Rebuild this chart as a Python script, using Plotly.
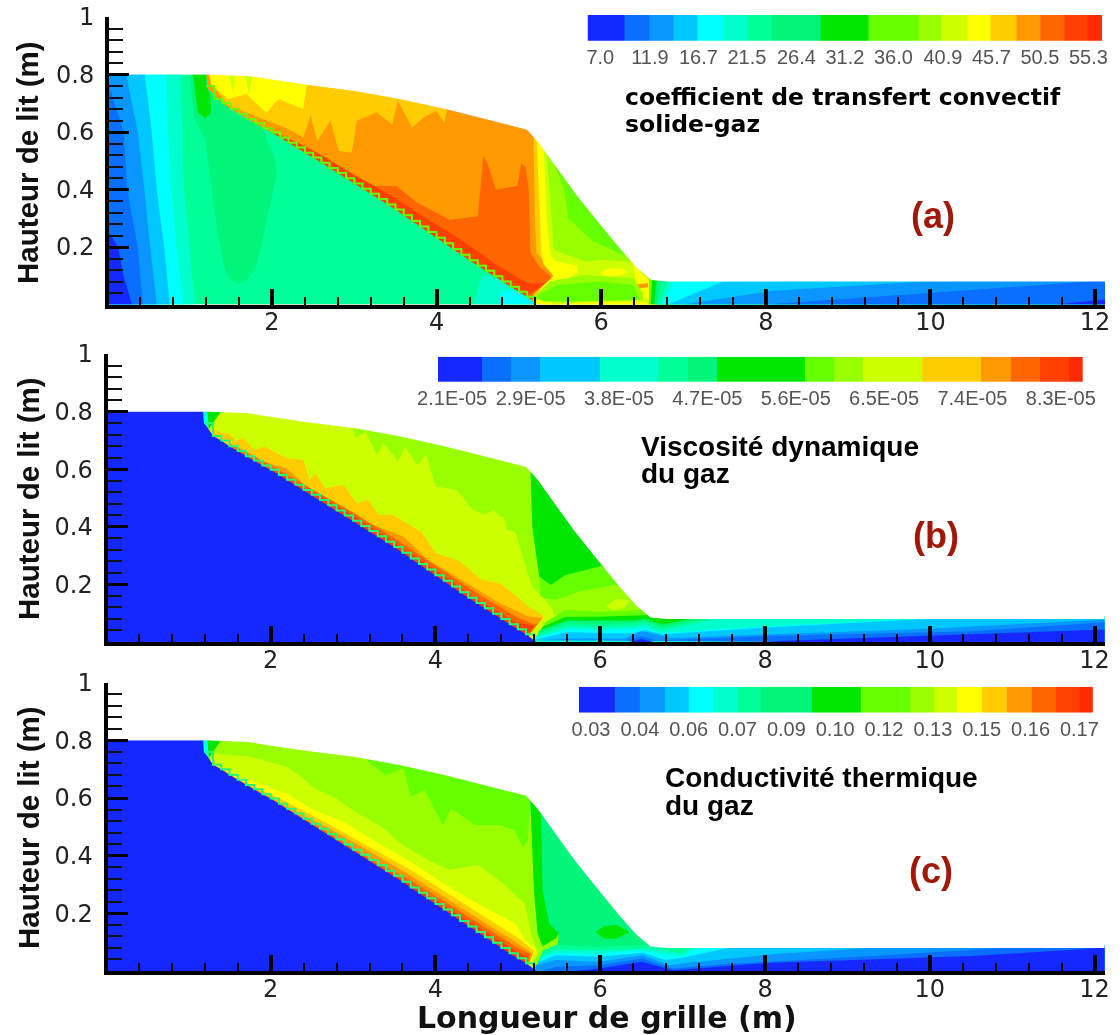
import plotly.graph_objects as go

W, H = 1120, 1035
PALETTE = ["#1428ff", "#0a6eff", "#0a96ff", "#00c8ff", "#00ffff", "#00ffcc", "#00ff99", "#00f57a", "#00e600",
           "#66ff00", "#99ff00", "#ccff00", "#ffff00", "#ffcc00", "#ff9900", "#ff6600", "#ff4000", "#ff2a00"]
RED = "#a01808"

# ---------- colour legends ----------
A_EDGES = [5.73, 9.37, 11.9, 14.24, 16.6, 19.19, 21.56, 23.9, 28.8, 33.57, 38.45, 40.8, 43.3, 45.65, 48.16, 50.53, 52.9, 55.2, 56.64]
A_LEVELS = list(range(18))
A_TICKS = [7.0, 11.9, 16.7, 21.5, 26.4, 31.2, 36.0, 40.9, 45.7, 50.5, 55.3]
A_TICKTEXT = ["7.0", "11.9", "16.7", "21.5", "26.4", "31.2", "36.0", "40.9", "45.7", "50.5", "55.3"]

B_EDGES = [1.956, 2.404, 2.696, 2.996, 3.602, 4.198, 4.498, 4.80, 5.695, 5.99, 6.29, 6.886, 7.487, 7.79, 8.083, 8.383, 8.523]
B_LEVELS = [0, 1, 2, 3, 5, 6, 7, 8, 9, 10, 11, 13, 14, 15, 16, 17]
B_TICKS = [2.1, 2.9, 3.8, 4.7, 5.6, 6.5, 7.4, 8.3]
B_TICKTEXT = ["2.1E-05", "2.9E-05", "3.8E-05", "4.7E-05", "5.6E-05", "6.5E-05", "7.4E-05", "8.3E-05"]

C_EDGES = [.0265, .0368, .0441, .0511, .0579, .0652, .0721, .0788, .0932, .1072, .1213, .1283, .1349, .142, .1493, .1563, .1632, .1701, .1739]
C_LEVELS = list(range(18))
C_TICKS = [.03, .044, .058, .072, .086, .10, .114, .128, .142, .156, .17]
C_TICKTEXT = ["0.03", "0.04", "0.06", "0.07", "0.09", "0.10", "0.12", "0.13", "0.15", "0.16", "0.17"]

# ---------- bed geometry (metres) ----------
BED_TOP = [(0, .8), (1.2, .8), (1.73, .794), (2.42, .764), (3.03, .742), (3.55, .715), (4.11, .68), (4.76, .633), (5.1, .608),
           (5.24, .563), (5.5, .46), (5.68, .388), (5.94, .295), (6.24, .19), (6.44, .126), (6.61, .085), (6.81, .08),
           (12.12, .08), (12.4, .08), (12.4, 1.05), (0, 1.05)]
FRONT_X = [1.2, 1.3, 1.4, 1.5, 1.6, 1.7, 1.8, 1.9, 2.0, 2.1, 2.2, 2.3, 2.4, 2.5, 2.6, 2.7, 2.8, 2.9, 3.0, 3.1, 3.2, 3.3, 3.4, 3.5,
           3.6, 3.7, 3.8, 3.9, 4.0, 4.1, 4.2, 4.3, 4.4, 4.5, 4.6, 4.7, 4.8, 4.9, 5.0, 5.1, 5.2]
FRONT_Y = [.76, .715, .70, .68, .663, .645, .63, .613, .598, .58, .563, .546, .528, .511, .493, .475, .457, .439, .421, .403, .385,
           .367, .348, .33, .31, .29, .271, .252, .232, .213, .193, .173, .154, .135, .117, .098, .08, .062, .044, .027, .005]
SOLID = [(0, 0), (0, .8), (1.2, .8)] + list(zip(FRONT_X, FRONT_Y)) + [(5.22, 0)]

# ---------- panel (a) regions ----------
A_DRY = [(1.2, 0), (5.5, 0), (5.5, .85), (1.2, .85)]
A_13 = [(1.26, .767), (1.47, .692), (2.16, .616), (2.38, .581), (2.47, .657), (2.55, .569), (2.71, .639), (2.81, .534), (2.97, .528),
        (3.03, .639), (3.27, .668), (3.46, .627), (3.53, .709), (3.70, .616), (3.85, .651), (4.0, .674), (4.09, .633), (4.13, .68),
        (4.13, .75), (1.2, .85)]
A_12 = [(1.23, .82), (1.26, .767), (1.47, .715), (1.69, .732), (1.93, .668), (2.08, .715), (2.38, .68), (2.42, .764), (2.42, .85)]
A_11A = [(1.47, .81), (1.57, .81), (1.52, .74)]
A_11B = [(1.66, .81), (1.78, .81), (1.72, .735)]
A_15 = [(2.6, .505), (3.25, .412), (3.51, .412), (3.77, .353), (4.16, .295), (4.5, .307), (4.57, .517), (4.63, .482), (4.72, .40),
        (4.98, .412), (5.03, .49), (5.08, .48), (5.12, .4), (5.14, .18), (5.25, .13), (5.42, .09), (5.3, .06), (5.2, 0), (2.6, .4)]
A_14I = [(4.18, .33), (4.22, .38), (4.3, .37), (4.35, .39), (4.45, .38), (4.47, .32), (4.36, .34)]
A_16 = [(2.0, .6), (2.3, .565), (2.6, .52), (3.0, .45), (3.46, .377), (3.9, .295), (4.33, .219), (4.76, .132), (5.11, .073),
        (5.32, .074), (5.11, .033), (5.05, 0), (2.0, .5)]
A_R14 = [(5.13, .619), (5.13, .41), (5.15, .178), (5.28, .132), (5.40, .091), (5.32, .07), (5.175, .037), (5.155, .004),
         (6.9, 0), (6.9, .65), (5.13, .65)]
A_R13 = [(5.175, .6), (5.195, .294), (5.215, .178), (5.32, .149), (5.42, .097), (5.276, .062), (5.175, .033), (5.175, 0),
         (6.9, 0), (6.9, .65), (5.175, .65)]
A_R12 = [(5.216, .65), (5.216, .578), (5.256, .294), (5.276, .167), (5.30, .14), (5.42, .1), (5.25, .05), (5.18, 0), (6.9, 0), (6.9, .65)]
A_R11 = [(5.30, .65), (5.30, .543), (5.34, .294), (5.38, .178), (5.43, .152), (5.70, .135), (5.72, .11), (5.6, .09), (5.43, .085),
         (5.4, 0), (6.9, 0), (6.9, .65)]
A_R12B = [(5.98, .112), (6.1, .126), (6.25, .124), (6.33, .112), (6.2, .098), (6.05, .098)]
A_R12C = [(6.38, .16), (6.48, .11), (6.6, .08), (6.58, .02), (6.4, .02), (6.42, .08)]
A_R14C = [(6.44, .07), (6.57, .075), (6.57, .06), (6.45, .055)]
A_R10 = [(5.34, .6), (5.34, .514), (5.40, .294), (5.42, .19), (5.82, .149), (5.985, .155), (6.39, .149), (6.6, .2), (6.6, .6)]
A_R9 = [(5.35, .65), (5.35, .55), (5.55, .4), (5.6, .3), (5.9, .22), (6.27, .172), (6.6, .172), (6.6, .65)]
A_L10 = [(5.195, .033), (5.38, .08), (5.78, .103), (6.39, .091), (6.51, .039), (6.51, .016), (5.2, .016)]
A_L9 = [(5.216, .027), (5.46, .068), (5.985, .08), (6.39, .068), (6.47, .016), (5.70, .01), (5.3, .01)]
A_L12 = [(5.7, .008), (6.5, .01), (6.6, 0), (5.6, 0)]
A_S9 = [(6.58, .09), (6.58, 0), (12.2, 0), (12.2, .09)]
A_S8 = [(6.62, .09), (6.6, 0), (12.2, 0), (12.2, .09)]
A_S7 = [(6.68, .09), (6.64, 0), (12.2, 0), (12.2, .09)]
A_S6 = [(6.74, .09), (6.67, 0), (12.2, 0), (12.2, .09)]
A_S5 = [(6.82, .09), (6.7, 0), (12.2, 0), (12.2, .09)]
A_S4 = [(6.9, .09), (6.74, 0), (12.2, 0), (12.2, .09)]
A_S3 = [(6.81, 0), (7.48, .08), (12.2, .09), (12.2, 0)]
A_S2 = [(7.0, 0), (8.09, .048), (9.91, .08), (12.2, .09), (12.2, 0)]
A_S1 = [(8.0, 0), (10.52, .05), (11.94, .08), (12.2, .09), (12.2, 0)]
A_S0 = [(11.53, 0), (12.12, .016), (12.2, .02), (12.2, 0)]
A_W6 = SOLID
A_W5 = [(0, 0), (1.06, 0), (1.0, .2), (.93, .4), (.91, .6), (.89, .81), (0, .81)]
A_W4 = [(0, 0), (.92, 0), (.84, .2), (.78, .4), (.74, .6), (.71, .81), (0, .81)]
A_W3 = [(0, 0), (.76, 0), (.69, .2), (.6, .4), (.54, .6), (.45, .81), (0, .81)]
A_W2 = [(0, 0), (.6, 0), (.52, .2), (.45, .4), (.37, .6), (.22, .81), (0, .81)]
A_W1 = [(0, 0), (.43, 0), (.37, .2), (.24, .4), (.2, .6), (.09, .7), (.02, .76), (0, .76)]
A_W0 = [(0, 0), (.30, 0), (.195, .1), (.13, .2), (.02, .25), (0, .25)]
A_W7 = [(1.0, .8), (1.06, .645), (1.19, .573), (1.26, .422), (1.34, .247), (1.43, .119), (1.5, .085), (1.6, .073), (1.72, .09), (1.82, .144),
        (1.95, .307), (2.02, .4), (2.06, .458), (2.03, .516), (1.95, .56), (1.9, .61), (1.5, .675), (1.22, .75), (1.2, .8)]
A_W8 = [(1.04, .8), (1.10, .668), (1.19, .647), (1.26, .668), (1.25, .73), (1.2, .76), (1.2, .8)]
A_W5B = [(4.45, 0), (4.55, .1), (4.7, .098), (5.2, .005), (5.2, 0)]
A_W4B = [(4.75, 0), (4.77, .045), (4.95, .047), (5.2, .005), (5.2, 0)]
A_LAYERS = [(14, A_DRY), (13, A_13), (12, A_12), (11, A_11A), (11, A_11B), (15, A_15), (14, A_14I), (16, A_16),
            (14, A_R14), (13, A_R13), (12, A_R12), (11, A_R11), (12, A_R12B), (12, A_R12C), (14, A_R14C), (10, A_R10), (9, A_R9),
            (10, A_L10), (9, A_L9), (12, A_L12), (9, A_S9), (8, A_S8), (7, A_S7), (6, A_S6), (5, A_S5), (4, A_S4), (3, A_S3),
            (2, A_S2), (1, A_S1), (0, A_S0), (6, A_W6), (5, A_W5), (4, A_W4), (3, A_W3), (2, A_W2), (1, A_W1), (0, A_W0),
            (7, A_W7), (8, A_W8), (5, A_W5B), (4, A_W4B)]

# ---------- panel (b) regions ----------
B_DRY = [(1.2, 0), (5.6, 0), (5.6, .85), (1.2, .85)]
B_10 = [(3.0, .85), (3.0, .742), (3.03, .708), (3.15, .73), (3.29, .65), (3.37, .69), (3.55, .627), (3.63, .679), (3.78, .615), (3.89, .65),
        (4.0, .54), (4.26, .528), (4.45, .459), (4.6, .442), (4.71, .459), (4.78, .435), (4.83, .435), (4.87, .389), (4.97, .383),
        (5.07, .285), (5.175, .192), (5.26, .169), (5.42, .117), (5.44, .094), (6.9, .09), (6.9, .85)]
B_11B = [(6.07, .125), (6.2, .15), (6.35, .145), (6.3, .12), (6.15, .11)]
B_9 = [(5.26, .24), (5.276, .157), (5.46, .146), (5.74, .175), (6.17, .198), (6.6, .2), (6.6, .3), (5.985, .27)]
B_8 = [(5.155, .7), (5.155, .59), (5.175, .40), (5.26, .227), (5.40, .198), (5.58, .233), (5.985, .262), (6.5, .3), (6.5, .7)]
B_S9 = [(5.34, .07), (5.58, .111), (5.985, .105), (6.43, .111), (6.55, .111), (6.7, .09), (12.2, .09), (12.2, 0), (5.2, 0)]
B_S8 = [(5.30, .053), (5.58, .088), (5.985, .088), (6.47, .094), (6.59, .094), (6.71, .085), (12.2, .09), (12.2, 0), (5.2, 0)]
B_S7 = [(5.26, .04), (5.6, .075), (6.0, .075), (6.4, .075), (6.55, .08), (6.75, .06), (7.2, .085), (12.2, .09), (12.2, 0), (5.2, 0)]
B_S6 = [(5.25, .03), (5.6, .065), (6.0, .062), (6.4, .065), (6.55, .072), (6.75, .05), (7.4, .085), (12.2, .09), (12.2, 0), (5.2, 0)]
B_S5 = [(5.22, .02), (5.6, .055), (6.0, .05), (6.4, .055), (6.55, .062), (6.75, .04), (7.5, .085), (12.2, .09), (12.2, 0), (5.2, 0)]
B_S4 = [(5.2, .012), (5.6, .045), (6.0, .04), (6.4, .045), (6.55, .05), (6.71, .031), (8.0, .054), (9.9, .08), (12.2, .09), (12.2, 0)]
B_S3 = [(5.2, .008), (5.6, .035), (6.0, .03), (6.4, .03), (6.55, .042), (6.75, .027), (8.0, .05), (9.95, .08), (12.2, .09), (12.2, 0)]
B_S2 = [(5.2, .005), (5.6, .012), (6.3, .012), (6.5, .038), (6.87, .014), (9.99, .046), (12.12, .0775), (12.2, .08), (12.2, 0)]
B_S1 = [(6.3, .005), (6.5, .02), (6.7, .005), (8.0, .02), (10.52, .037), (12.12, .066), (12.2, .07), (12.2, 0)]
B_S0 = [(6.35, 0), (6.5, .01), (6.65, 0), (8.0, .002), (12.12, .043), (12.2, .045), (12.2, 0)]
B_13 = [(1.28, .742), (1.41, .725), (1.49, .725), (1.58, .7), (1.67, .708), (1.80, .667), (1.93, .679), (2.19, .638), (2.40, .632), (2.47, .563),
        (2.55, .586), (2.66, .534), (2.88, .546), (3.05, .482), (3.18, .494), (3.31, .442), (3.48, .442), (3.63, .418), (3.83, .384),
        (4.0, .309), (4.30, .28), (4.56, .216), (4.78, .205), (4.99, .158), (5.12, .124), (5.32, .089), (5.17, .037), (5.1, 0), (1.25, .5)]
B_14 = [(1.84, .632), (2.19, .603), (2.44, .54), (2.79, .482), (3.18, .413), (3.61, .366), (3.91, .286), (4.35, .21), (4.78, .135),
        (5.12, .089), (5.3, .083), (5.17, .037), (5.1, 0), (1.84, .5)]
B_15 = [(1.5, .69), (2.0, .615), (2.5, .53), (3.0, .45), (3.5, .36), (4.0, .265), (4.5, .17), (5.0, .085), (5.2, .06), (5.25, .065), (5.15, .03), (5.1, 0), (1.5, .4)]
B_16 = [(2.0, .605), (2.5, .52), (3.0, .44), (3.5, .345), (4.0, .25), (4.5, .15), (5.0, .065), (5.15, .06), (5.2, .055), (5.12, .03), (5.05, 0), (2.0, .4)]
CAP_4 = [(1.18, .8), (1.23, .8), (1.25, .74), (1.19, .76)]
CAP_8 = [(1.23, .8), (1.4, .8), (1.3, .76), (1.27, .75), (1.25, .74)]
B_LAYERS = [(11, B_DRY), (10, B_10), (11, B_11B), (9, B_9), (8, B_8), (9, B_S9), (8, B_S8), (7, B_S7), (6, B_S6), (5, B_S5), (4, B_S4),
            (3, B_S3), (2, B_S2), (1, B_S1), (0, B_S0), (13, B_13), (14, B_14), (15, B_15), (16, B_16), (0, SOLID), (4, CAP_4), (8, CAP_8)]

# ---------- panel (c) regions ----------
C_DRY = [(1.2, 0), (5.6, 0), (5.6, .85), (1.2, .85)]
C_9 = [(3.18, .85), (3.18, .726), (3.40, .68), (3.61, .703), (3.70, .605), (3.87, .628), (4.09, .506), (4.19, .564), (4.48, .506), (4.78, .506),
       (4.95, .489), (5.06, .431), (5.12, .45), (5.2, .85)]
C_11 = [(1.28, .755), (1.75, .743), (2.19, .709), (2.40, .668), (2.53, .634), (2.79, .599), (3.05, .547), (3.35, .50), (3.57, .443), (3.91, .385),
        (4.17, .35), (4.52, .368), (4.82, .304), (5.08, .235), (5.17, .12), (5.25, .06), (5.1, 0), (1.25, .5)]
C_12 = [(1.25, .735), (1.49, .686), (2.19, .616), (2.53, .558), (2.88, .518), (3.27, .449), (3.70, .379), (4.22, .281), (4.65, .212), (4.97, .165),
        (5.09, .107), (5.22, .072), (5.1, 0), (1.25, .5)]
C_13 = [(1.3, .72), (1.6, .665), (2.2, .585), (2.7, .51), (3.2, .43), (3.7, .35), (4.2, .26), (4.7, .17), (5.0, .115), (5.2, .07), (5.1, 0), (1.3, .5)]
C_14 = [(1.5, .68), (2.2, .57), (2.7, .495), (3.2, .415), (3.7, .33), (4.2, .24), (4.7, .15), (5.0, .095), (5.18, .06), (5.1, 0), (1.5, .5)]
C_15 = [(1.4, .7), (2.2, .56), (2.7, .48), (3.2, .39), (3.7, .315), (4.2, .225), (4.7, .135), (5.0, .08), (5.15, .06), (5.1, 0), (1.4, .5)]
C_16 = [(2.2, .55), (2.7, .47), (3.2, .385), (3.7, .30), (4.2, .21), (4.7, .12), (5.0, .065), (5.12, .05), (5.05, 0), (2.2, .4)]
C_R7 = [(5.15, .7), (5.15, .59), (5.2, .30), (5.3, .17), (5.5, .13), (5.46, .05), (6.9, .05), (6.9, .7)]
C_R8 = [(5.155, .7), (5.155, .58), (5.195, .28), (5.24, .13), (5.3, .085), (5.46, .113), (5.5, .13), (5.38, .165), (5.3, .28), (5.28, .55), (5.28, .7)]
C_R8B = [(5.94, .135), (6.05, .155), (6.2, .16), (6.35, .135), (6.2, .112), (6.05, .112)]
C_S6 = [(5.30, .07), (5.46, .09), (5.985, .084), (6.47, .09), (6.7, .09), (12.2, .09), (12.2, 0), (5.2, 0)]
C_S5 = [(5.30, .055), (5.46, .075), (5.985, .072), (6.47, .078), (6.63, .078), (7.0, .06), (7.1, .085), (12.2, .09), (12.2, 0), (5.2, 0)]
C_S4 = [(5.28, .044), (5.46, .063), (5.985, .061), (6.47, .072), (6.71, .061), (7.0, .05), (7.2, .085), (12.2, .09), (12.2, 0), (5.2, 0)]
C_S3 = [(5.26, .032), (5.46, .055), (5.985, .049), (6.51, .063), (6.795, .038), (7.0, .046), (7.56, .081), (12.2, .09), (12.2, 0), (5.2, 0)]
C_S2 = [(5.22, .02), (5.46, .038), (5.985, .032), (6.51, .055), (6.84, .02), (7.08, .029), (8.09, .058), (9.3, .081), (12.2, .09), (12.2, 0), (5.2, 0)]
C_S1 = [(5.3, 0), (5.46, .015), (5.985, .02), (6.51, .043), (6.88, .009), (7.48, .023), (9.3, .052), (10.92, .081), (12.2, .09), (12.2, 0)]
C_S0 = [(5.7, 0), (5.985, .009), (6.51, .032), (6.88, .003), (8.09, .029), (10.52, .052), (12.12, .081), (12.2, .09), (12.2, 0)]
C_LAYERS = [(10, C_DRY), (9, C_9), (7, C_R7), (8, C_R8), (8, C_R8B), (6, C_S6), (5, C_S5), (4, C_S4), (3, C_S3), (2, C_S2), (1, C_S1), (0, C_S0),
            (11, C_11), (12, C_12), (13, C_13), (14, C_14), (15, C_15), (16, C_16), (0, SOLID), (4, CAP_4), (8, CAP_8)]

X_TICKS = [2, 4, 6, 8, 10, 12]
Y_TICKS = [.2, .4, .6, .8, 1]
Y_TICKTEXT = ["0.2", "0.4", "0.6", "0.8", "1"]

fig = go.Figure()


def px(x):
    return x / W


def py(y):
    return 1 - y / H


def poly(n, level_color, pts):
    s = "" if n == 1 else str(n)
    fig.add_trace(go.Scatter(x=[p[0] for p in pts], y=[p[1] for p in pts], mode="lines", fill="toself", fillcolor=level_color,
                             line=dict(width=0, color=level_color), hoverinfo="skip", showlegend=False, xaxis="x" + s, yaxis="y" + s))


for n, layers, front_col in [(1, A_LAYERS, "#66ff00"), (2, B_LAYERS, "#22ff77"), (3, C_LAYERS, "#22ff77")]:
    s = "" if n == 1 else str(n)
    for lev, pts in layers:
        poly(n, PALETTE[lev], pts)
    fig.add_trace(go.Scatter(x=FRONT_X, y=FRONT_Y, mode="lines", line=dict(color=front_col, width=2, shape="hv"),
                             hoverinfo="skip", showlegend=False, xaxis="x" + s, yaxis="y" + s))
    poly(n, "#ffffff", BED_TOP)

STEPS = []
for i, c in enumerate(PALETTE):
    STEPS += [[i / 18, c], [(i + 1) / 18, c]]
for n, edges, levels in [(4, A_EDGES, A_LEVELS), (5, B_EDGES, B_LEVELS), (6, C_EDGES, C_LEVELS)]:
    fig.add_trace(go.Heatmap(x=edges, y=[0, 1], z=[levels], zmin=-.5, zmax=17.5, colorscale=STEPS, showscale=False, hoverinfo="skip",
                             xaxis=f"x{n}", yaxis=f"y{n}"))


def main_x(left, right, anchor):
    return dict(domain=[px(left), px(right)], range=[.02, 12.12], anchor=anchor, tickmode="array", tickvals=X_TICKS, ticktext=[str(t) for t in X_TICKS],
                ticks="inside", ticklen=16, tickwidth=4, tickcolor="#000", showline=True, linewidth=4, linecolor="#000", showgrid=False, zeroline=False,
                minor=dict(tick0=0, dtick=.4, ticks="inside", ticklen=8, tickwidth=1.5, tickcolor="#000", showgrid=False),
                tickfont=dict(family="DejaVu Sans", size=24, color="#222"), ticklabelstandoff=-7)


def main_y(top, bottom, anchor):
    return dict(domain=[py(bottom), py(top)], range=[0, 1], anchor=anchor, tickmode="array", tickvals=Y_TICKS, ticktext=Y_TICKTEXT,
                ticks="inside", ticklen=20, tickwidth=3, tickcolor="#000", showline=True, linewidth=4, linecolor="#000", showgrid=False, zeroline=False,
                minor=dict(tick0=0, dtick=.04, ticks="inside", ticklen=14, tickwidth=1.5, tickcolor="#111", showgrid=False),
                tickfont=dict(family="DejaVu Sans", size=24, color="#222"), ticklabelstandoff=6)


def bar_x(left, right, edges, ticks, text, anchor):
    return dict(domain=[px(left), px(right)], range=[edges[0], edges[-1]], anchor=anchor, tickmode="array", tickvals=ticks, ticktext=text,
                ticks="", showline=False, showgrid=False, zeroline=False, tickfont=dict(family="Liberation Sans", size=20, color="#555"), ticklabelstandoff=2)


def bar_y(top, bottom, anchor):
    return dict(domain=[py(bottom), py(top)], range=[0, 1], anchor=anchor, visible=False)


layout = dict(width=W, height=H, margin=dict(l=0, r=0, t=0, b=0, autoexpand=False), paper_bgcolor="#fff", plot_bgcolor="#fff", showlegend=False,
              xaxis=main_x(109, 1105, "y"), yaxis=main_y(17, 304.5, "x"),
              xaxis2=main_x(107.5, 1104.5, "y2"), yaxis2=main_y(354, 642, "x2"),
              xaxis3=main_x(107.5, 1104.5, "y3"), yaxis3=main_y(682.7, 971, "x3"),
              xaxis4=bar_x(587.5, 1102, A_EDGES, A_TICKS, A_TICKTEXT, "y4"), yaxis4=bar_y(15, 40.7, "x4"),
              xaxis5=bar_x(438, 1082.7, B_EDGES, B_TICKS, B_TICKTEXT, "y5"), yaxis5=bar_y(356.7, 382, "x5"),
              xaxis6=bar_x(578.8, 1093, C_EDGES, C_TICKS, C_TICKTEXT, "y6"), yaxis6=bar_y(686.7, 712.7, "x6"))
fig.update_layout(**layout)


def note(text, x, y, family, size, color="#000", bold=True, anchor="left", angle=0):
    t = f"<b>{text}</b>" if bold else text
    fig.add_annotation(text=t, x=px(x), y=py(y), xref="paper", yref="paper", xanchor=anchor, yanchor="middle", showarrow=False, textangle=angle,
                       font=dict(family=family, size=size, color=color))


note("coefficient de transfert convectif", 622.5, 97, "DejaVu Sans", 23.5)
note("solide-gaz", 622.5, 124, "DejaVu Sans", 23.5)
note("Viscosité dynamique", 639, 446, "Liberation Sans", 28)
note("du gaz", 639, 473, "Liberation Sans", 28)
note("Conductivité thermique", 663, 777, "Liberation Sans", 28)
note("du gaz", 663, 805, "Liberation Sans", 28)
note("(a)", 933, 215, "Liberation Sans", 36, RED, anchor="center")
note("(b)", 936, 535, "Liberation Sans", 36, RED, anchor="center")
note("(c)", 931, 870, "Liberation Sans", 36, RED, anchor="center")
for cy in (163, 499, 828):
    note("Hauteur de lit (m)", 28, cy, "Liberation Sans", 29.5, "#111", anchor="center", angle=-90)
note("Longueur de grille (m)", 607, 1017, "DejaVu Sans", 30, "#111", anchor="center")

fig.write_html("out.html", config=dict(displayModeBar=False),
               post_script="document.body.style.margin='0';document.querySelector('.plotly-graph-div').style.filter='blur(0.6px)';")
